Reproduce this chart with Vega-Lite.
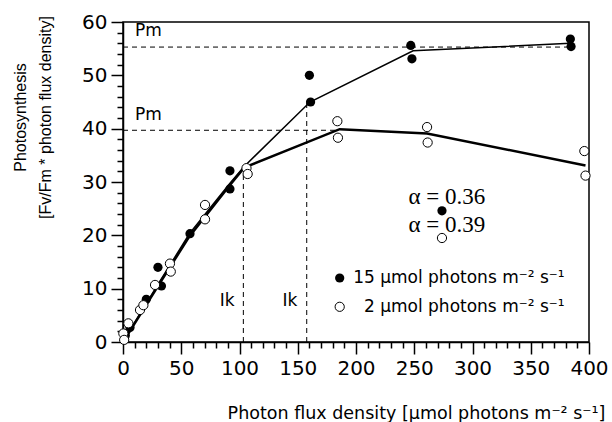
{
  "$schema": "https://vega.github.io/schema/vega-lite/v6.json",
  "width": 466,
  "height": 320,
  "autosize": "none",
  "padding": {"left": 123, "top": 22, "right": 23, "bottom": 80},
  "background": "white",
  "config": {
    "view": {"stroke": "black", "strokeWidth": 1.5},
    "axis": {
      "domainColor": "black", "domainWidth": 1.5, "tickColor": "black", "tickWidth": 1.5,
      "labelColor": "black", "titleColor": "black", "grid": false, "labelFlush": false, "labelOverlap": false,
      "titleFontWeight": "normal"
    }
  },
  "datasets": {
    "filled": [
      {"x": 2, "y": 1.2}, {"x": 6, "y": 2.7}, {"x": 20, "y": 8}, {"x": 33, "y": 10.5}, {"x": 30, "y": 14},
      {"x": 57.5, "y": 20.3}, {"x": 91.8, "y": 32.1}, {"x": 91.8, "y": 28.7},
      {"x": 160, "y": 50}, {"x": 161, "y": 45}, {"x": 247, "y": 55.6}, {"x": 248, "y": 53.1},
      {"x": 384, "y": 56.8}, {"x": 384.6, "y": 55.4}
    ],
    "open": [
      {"x": 0.3, "y": 1.6}, {"x": 1, "y": 0.4}, {"x": 4.6, "y": 3.5}, {"x": 14.6, "y": 6}, {"x": 17.5, "y": 6.9},
      {"x": 27.5, "y": 10.7}, {"x": 40.3, "y": 14.7}, {"x": 41, "y": 13.2}, {"x": 70.4, "y": 25.7}, {"x": 70.4, "y": 23.0},
      {"x": 106, "y": 32.6}, {"x": 107, "y": 31.5}, {"x": 184, "y": 41.4}, {"x": 184.5, "y": 38.3},
      {"x": 261, "y": 40.3}, {"x": 261.5, "y": 37.4}, {"x": 396, "y": 35.8}, {"x": 397, "y": 31.2}
    ],
    "fit15": [
      {"x": 0, "y": 0}, {"x": 30, "y": 10.8}, {"x": 57, "y": 20.3}, {"x": 92, "y": 29.8}, {"x": 104, "y": 32.9},
      {"x": 160.5, "y": 45}, {"x": 249, "y": 54.6}, {"x": 384, "y": 56}
    ],
    "fit2": [
      {"x": 0, "y": 0}, {"x": 30, "y": 10.5}, {"x": 57, "y": 19.8}, {"x": 92, "y": 29.5}, {"x": 104, "y": 32.7},
      {"x": 186, "y": 39.9}, {"x": 261, "y": 39.1}, {"x": 397, "y": 33.1}
    ],
    "dashes": [
      {"id": "pm1", "x": 0, "y": 55.3}, {"id": "pm1", "x": 382, "y": 55.3},
      {"id": "pm2", "x": 0, "y": 39.7}, {"id": "pm2", "x": 185, "y": 39.7},
      {"id": "ik1", "x": 103.3, "y": 0}, {"id": "ik1", "x": 103.3, "y": 32.7},
      {"id": "ik2", "x": 157.7, "y": 0}, {"id": "ik2", "x": 157.7, "y": 45}
    ],
    "sansLabels": [
      {"x": 10.3, "y": 58.3, "text": "Pm"},
      {"x": 10.3, "y": 42.6, "text": "Pm"},
      {"x": 83, "y": 7.7, "text": "Ik"},
      {"x": 137, "y": 7.7, "text": "Ik"}
    ],
    "alphaLabels": [
      {"x": 278, "y": 27.2, "text": "α = 0.36"},
      {"x": 278, "y": 21.9, "text": "α = 0.39"}
    ],
    "alphaFilled": [{"x": 273.8, "y": 24.6}],
    "alphaOpen": [{"x": 273.8, "y": 19.5}],
    "legendText": [
      {"x": 379, "y": 12, "text": "15 µmol photons m⁻² s⁻¹"},
      {"x": 379, "y": 6.6, "text": "2 µmol photons m⁻² s⁻¹"}
    ],
    "legendFilled": [{"x": 186, "y": 12}],
    "legendOpen": [{"x": 186, "y": 6.6}]
  },
  "resolve": {"axis": {"x": "independent", "y": "independent"}},
  "layer": [
    {
      "data": {"name": "dashes"},
      "mark": {"type": "line", "color": "black", "strokeWidth": 1, "strokeDash": [5, 4]},
      "encoding": {
        "detail": {"field": "id"},
        "x": {
          "field": "x", "type": "quantitative",
          "scale": {"domain": [0, 400], "nice": false, "zero": false},
          "axis": {
            "orient": "bottom",
            "values": [0,10,20,30,40,50,60,70,80,90,100,110,120,130,140,150,160,170,180,190,200,210,220,230,240,250,260,270,280,290,300,310,320,330,340,350,360,370,380,390,400],
            "labelExpr": "datum.value % 50 === 0 ? datum.label : ''",
            "tickSize": {"expr": "datum.value % 50 === 0 ? 12 : 6"},
            "labelFont": "DejaVu Sans", "labelFontSize": 20, "labelPadding": 4, "labelBaseline": "top",
            "title": "Photon flux density [µmol photons m⁻² s⁻¹]",
            "titleFont": "DejaVu Sans", "titleFontSize": 17.5,
            "titleX": 293, "titleY": 76, "titleAlign": "center", "titleBaseline": "alphabetic", "titleAnchor": "start"
          }
        },
        "y": {
          "field": "y", "type": "quantitative",
          "scale": {"domain": [0, 60], "nice": false, "zero": false},
          "axis": {
            "orient": "left",
            "values": [0,2,4,6,8,10,12,14,16,18,20,22,24,26,28,30,32,34,36,38,40,42,44,46,48,50,52,54,56,58,60],
            "labelExpr": "datum.value % 10 === 0 ? datum.label : ''",
            "tickSize": {"expr": "datum.value % 10 === 0 ? 12 : 6"},
            "labelFont": "DejaVu Sans", "labelFontSize": 20, "labelPadding": 4, "labelBaseline": "middle",
            "title": ["Photosynthesis", "[Fv/Fm * photon flux density]"],
            "titleFont": "Liberation Sans", "titleFontSize": 16, "titleLineHeight": 25,
            "titleAngle": -90, "titleX": -111, "titleY": 95, "titleAlign": "center", "titleBaseline": "top", "titleAnchor": "start"
          }
        }
      }
    },
    {
      "data": {"name": "fit15"},
      "mark": {"type": "line", "color": "black", "strokeWidth": 1.5},
      "encoding": {
        "x": {"field": "x", "type": "quantitative", "axis": null},
        "y": {"field": "y", "type": "quantitative", "axis": null}
      }
    },
    {
      "data": {"name": "fit2"},
      "mark": {"type": "line", "color": "black", "strokeWidth": 2.5},
      "encoding": {
        "x": {"field": "x", "type": "quantitative", "axis": null},
        "y": {"field": "y", "type": "quantitative", "axis": null}
      }
    },
    {
      "data": {"name": "filled"},
      "mark": {"type": "point", "shape": "circle", "filled": true, "color": "black", "opacity": 1, "size": 85},
      "encoding": {
        "x": {"field": "x", "type": "quantitative", "axis": null},
        "y": {"field": "y", "type": "quantitative", "axis": null}
      }
    },
    {
      "data": {"name": "open"},
      "mark": {"type": "point", "shape": "circle", "filled": false, "fill": "white", "fillOpacity": 1, "stroke": "black", "strokeWidth": 1, "opacity": 1, "size": 85},
      "encoding": {
        "x": {"field": "x", "type": "quantitative", "axis": null},
        "y": {"field": "y", "type": "quantitative", "axis": null}
      }
    },
    {
      "data": {"name": "alphaFilled"},
      "mark": {"type": "point", "shape": "circle", "filled": true, "color": "black", "opacity": 1, "size": 85},
      "encoding": {
        "x": {"field": "x", "type": "quantitative", "axis": null},
        "y": {"field": "y", "type": "quantitative", "axis": null}
      }
    },
    {
      "data": {"name": "alphaOpen"},
      "mark": {"type": "point", "shape": "circle", "filled": false, "fill": "white", "fillOpacity": 1, "stroke": "black", "strokeWidth": 1, "opacity": 1, "size": 85},
      "encoding": {
        "x": {"field": "x", "type": "quantitative", "axis": null},
        "y": {"field": "y", "type": "quantitative", "axis": null}
      }
    },
    {
      "data": {"name": "legendFilled"},
      "mark": {"type": "point", "shape": "circle", "filled": true, "color": "black", "opacity": 1, "size": 85},
      "encoding": {
        "x": {"field": "x", "type": "quantitative", "axis": null},
        "y": {"field": "y", "type": "quantitative", "axis": null}
      }
    },
    {
      "data": {"name": "legendOpen"},
      "mark": {"type": "point", "shape": "circle", "filled": false, "fill": "white", "fillOpacity": 1, "stroke": "black", "strokeWidth": 1, "opacity": 1, "size": 85},
      "encoding": {
        "x": {"field": "x", "type": "quantitative", "axis": null},
        "y": {"field": "y", "type": "quantitative", "axis": null}
      }
    },
    {
      "data": {"name": "sansLabels"},
      "mark": {"type": "text", "font": "DejaVu Sans", "fontSize": 17, "align": "left", "baseline": "middle", "color": "black"},
      "encoding": {
        "x": {"field": "x", "type": "quantitative", "axis": null},
        "y": {"field": "y", "type": "quantitative", "axis": null},
        "text": {"field": "text"}
      }
    },
    {
      "data": {"name": "alphaLabels"},
      "mark": {"type": "text", "font": "Liberation Serif", "fontSize": 23, "align": "center", "baseline": "middle", "color": "black"},
      "encoding": {
        "x": {"field": "x", "type": "quantitative", "axis": null},
        "y": {"field": "y", "type": "quantitative", "axis": null},
        "text": {"field": "text"}
      }
    },
    {
      "data": {"name": "legendText"},
      "mark": {"type": "text", "font": "DejaVu Sans", "fontSize": 17, "align": "right", "baseline": "middle", "color": "black"},
      "encoding": {
        "x": {"field": "x", "type": "quantitative", "axis": null},
        "y": {"field": "y", "type": "quantitative", "axis": null},
        "text": {"field": "text"}
      }
    }
  ]
}
